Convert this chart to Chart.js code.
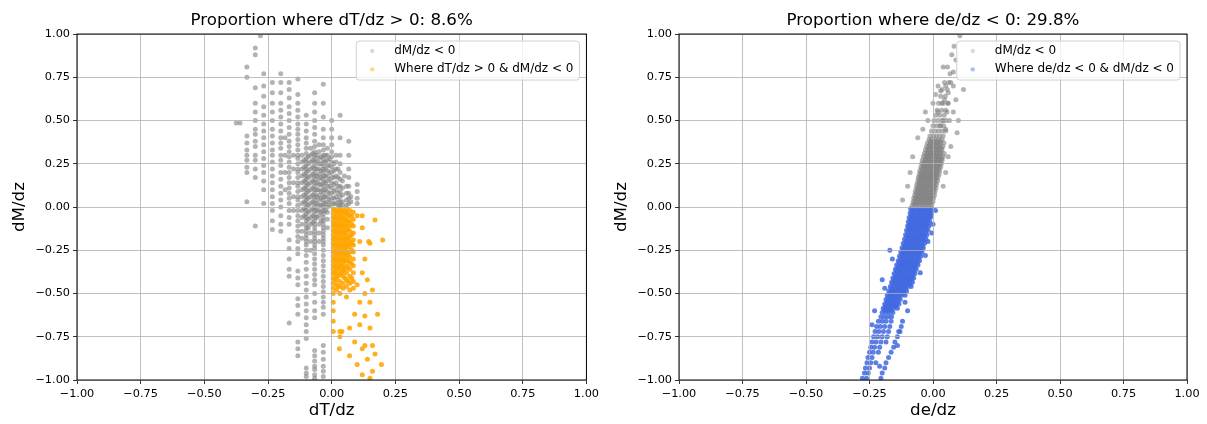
<!DOCTYPE html>
<html>
<head>
<meta charset="utf-8">
<script src="https://cdn.jsdelivr.net/npm/chart.js@4.4.1/dist/chart.umd.min.js"></script>
<style>
  html, body { margin: 0; padding: 0; background: #fff; }
  #wrap { position: relative; width: 1207px; height: 424px; }
  #left { position: absolute; left: 0; top: 0; }
  #right { position: absolute; left: 602px; top: 0; }
</style>
</head>
<body>
<div id="wrap">
  <canvas id="left" width="602" height="424"></canvas>
  <canvas id="right" width="605" height="424"></canvas>
</div>
<script>
// --- データ (画像から読み取った推定値) ---
const tickValues = [-1, -0.75, -0.5, -0.25, 0, 0.25, 0.5, 0.75, 1];

const leftTitle = 'Proportion where dT/dz > 0: 8.6%';
const rightTitle = 'Proportion where de/dz < 0: 29.8%';
const leftLabels = ['dM/dz < 0', 'Where dT/dz > 0 & dM/dz < 0'];
const rightLabels = ['dM/dz < 0', 'Where de/dz < 0 & dM/dz < 0'];

// 左: dT/dz 列ごとの dM/dz 値 [x, [y...]]
const leftGrayCols = [
  [-0.375, [0.485]],
  [-0.36, [0.485]],
  [-0.333, [0.81, 0.75, 0.41, 0.37, 0.33, 0.30, 0.27, 0.23, 0.20, 0.03]],
  [-0.3, [0.92, 0.88, 0.69, 0.60, 0.55, 0.50, 0.45, 0.42, 0.38, 0.35, 0.30, 0.27, 0.22, 0.17, -0.11]],
  [-0.28, [0.99]],
  [-0.267, [0.77, 0.70, 0.64, 0.58, 0.53, 0.48, 0.44, 0.40, 0.36, 0.32, 0.28, 0.24, 0.20, 0.15, 0.10, 0.02]],
  [-0.233, [0.72, 0.66, 0.60, 0.55, 0.50, 0.45, 0.41, 0.37, 0.33, 0.30, 0.26, 0.22, 0.18, 0.14, 0.10, 0.06, 0.02, -0.02, -0.08, -0.13]],
  [-0.2, [0.77, 0.72, 0.66, 0.60, 0.56, 0.52, 0.48, 0.44, 0.40, 0.37, 0.34, 0.30, 0.27, 0.24, 0.20, 0.16, 0.12, 0.08, 0.04, 0.00, -0.05, -0.10, -0.14]],
  [-0.183, [0.40, 0.30, 0.20, 0.10]],
  [-0.167, [0.72, 0.68, 0.63, 0.58, 0.54, 0.50, 0.46, 0.42, 0.38, 0.35, 0.32, 0.29, 0.26, 0.23, 0.20, 0.17, 0.14, 0.11, 0.08, 0.05, 0.02, -0.02, -0.06, -0.10, -0.19, -0.24, -0.30, -0.36, -0.40, -0.67]],
  [-0.15, [0.30, 0.22, 0.14, 0.06, -0.02]],
  [-0.133, [0.74, 0.65, 0.60, 0.56, 0.52, 0.48, 0.45, 0.42, 0.39, 0.36, 0.33, 0.30, 0.28, 0.25, 0.22, 0.20, 0.17, 0.14, 0.12, 0.09, 0.06, 0.04, 0.01, -0.02, -0.05, -0.08, -0.11, -0.14, -0.17, -0.20, -0.24, -0.27, -0.37, -0.41, -0.45, -0.53, -0.57, -0.62, -0.78, -0.82, -0.86]],
  [-0.117, [0.30, 0.26, 0.22, 0.18, 0.14, 0.10, 0.06, 0.02, -0.02, -0.06, -0.10, -0.14, -0.18]],
  [-0.108, [0.27, 0.23, 0.19, 0.15, 0.11, 0.07, 0.03, -0.01, -0.05]],
  [-0.1, [0.53, 0.48, 0.44, 0.40, 0.37, 0.34, 0.31, 0.28, 0.26, 0.24, 0.22, 0.20, 0.18, 0.16, 0.14, 0.12, 0.10, 0.08, 0.06, 0.04, 0.02, 0.00, -0.02, -0.04, -0.06, -0.08, -0.10, -0.12, -0.14, -0.16, -0.18, -0.20, -0.22, -0.25, -0.28, -0.32, -0.36, -0.40, -0.44, -0.48, -0.52, -0.56, -0.60, -0.64, -0.68, -0.72, -0.76, -0.93, -0.96, -0.98]],
  [-0.092, [0.29, 0.25, 0.21, 0.17, 0.13, 0.09, 0.05, 0.01, -0.03, -0.07, -0.12]],
  [-0.083, [0.34, 0.30, 0.26, 0.22, 0.18, 0.14, 0.10, 0.06, 0.02, -0.02, -0.06, -0.10, -0.15, -0.20, -0.25]],
  [-0.075, [0.31, 0.27, 0.23, 0.19, 0.15, 0.11, 0.07, 0.03, -0.01, -0.05, -0.09]],
  [-0.067, [0.66, 0.60, 0.55, 0.50, 0.46, 0.42, 0.38, 0.35, 0.32, 0.30, 0.28, 0.26, 0.24, 0.22, 0.20, 0.18, 0.16, 0.14, 0.12, 0.10, 0.08, 0.06, 0.04, 0.02, 0.00, -0.02, -0.04, -0.06, -0.08, -0.10, -0.12, -0.14, -0.16, -0.18, -0.20, -0.22, -0.24, -0.27, -0.30, -0.33, -0.36, -0.39, -0.42, -0.45, -0.50, -0.55, -0.60, -0.64, -0.83, -0.86, -0.89, -0.92, -0.94, -0.97, -0.99]],
  [-0.058, [0.30, 0.26, 0.22, 0.18, 0.14, 0.10, 0.06, 0.02, -0.02, -0.06]],
  [-0.05, [0.36, 0.32, 0.28, 0.25, 0.22, 0.19, 0.16, 0.13, 0.10, 0.07, 0.04, 0.01, -0.02, -0.05, -0.10, -0.15, -0.20]],
  [-0.042, [0.29, 0.25, 0.21, 0.17, 0.13, 0.09, 0.05, 0.01, -0.03, -0.08]],
  [-0.033, [0.71, 0.60, 0.52, 0.45, 0.40, 0.36, 0.33, 0.30, 0.28, 0.26, 0.24, 0.22, 0.20, 0.18, 0.16, 0.14, 0.12, 0.10, 0.08, 0.06, 0.04, 0.02, 0.00, -0.02, -0.04, -0.06, -0.08, -0.10, -0.12, -0.14, -0.16, -0.18, -0.20, -0.22, -0.25, -0.28, -0.31, -0.34, -0.37, -0.40, -0.43, -0.46, -0.49, -0.52, -0.55, -0.58, -0.62, -0.80, -0.84, -0.88, -0.92, -0.95, -0.98]],
  [-0.025, [0.30, 0.26, 0.22, 0.18, 0.14, 0.10, 0.06, 0.02, -0.02]],
  [-0.017, [0.34, 0.30, 0.27, 0.24, 0.21, 0.18, 0.15, 0.12, 0.09, 0.06, 0.03, 0.00, -0.03, -0.07, -0.12]],
  [-0.008, [0.28, 0.24, 0.20, 0.16, 0.12, 0.08, 0.04, 0.01]],
  [0, [0.50, 0.45, 0.40, 0.36, 0.32, 0.29, 0.26, 0.23, 0.20, 0.17, 0.14, 0.11, 0.08, 0.05, 0.02]],
  [0.008, [0.25, 0.21, 0.17, 0.13, 0.09, 0.05, 0.02]],
  [0.017, [0.30, 0.26, 0.22, 0.18, 0.14, 0.10, 0.06, 0.02]],
  [0.025, [0.22, 0.17, 0.12, 0.08, 0.04, 0.01]],
  [0.033, [0.53, 0.40, 0.30, 0.25, 0.20, 0.16, 0.12, 0.09, 0.06, 0.03, 0.01]],
  [0.042, [0.15, 0.11, 0.07, 0.03, 0.01]],
  [0.05, [0.18]],
  [0.058, [0.12, 0.08, 0.04, 0.01]],
  [0.067, [0.38, 0.30, 0.22, 0.17, 0.12, 0.08, 0.05, 0.02]],
  [0.075, [0.06, 0.03]],
  [0.1, [0.13, 0.09, 0.05, 0.02]]
];

// 左: dT/dz > 0 かつ dM/dz < 0
const leftOrangeCols = [
  [0.006, [-0.01, -0.035, -0.06, -0.085, -0.11, -0.135, -0.16, -0.185, -0.21, -0.235, -0.26, -0.285, -0.31, -0.335, -0.36, -0.385, -0.41, -0.44, -0.47, -0.50, -0.55, -0.60, -0.66, -0.72]],
  [0.012, [-0.02, -0.06, -0.10, -0.14, -0.18, -0.22, -0.26, -0.30, -0.34, -0.38, -0.42]],
  [0.019, [-0.02, -0.045, -0.07, -0.095, -0.12, -0.145, -0.17, -0.195, -0.22, -0.245, -0.27, -0.295, -0.32, -0.345, -0.37, -0.395, -0.42, -0.45, -0.48]],
  [0.025, [-0.03, -0.07, -0.11, -0.15, -0.19, -0.23, -0.27, -0.31, -0.35, -0.40, -0.46]],
  [0.032, [-0.01, -0.035, -0.06, -0.085, -0.11, -0.135, -0.16, -0.185, -0.21, -0.235, -0.26, -0.285, -0.31, -0.335, -0.36, -0.39, -0.43, -0.46, -0.50, -0.72, -0.75]],
  [0.038, [-0.02, -0.06, -0.10, -0.14, -0.18, -0.22, -0.26, -0.30, -0.34, -0.38]],
  [0.045, [-0.02, -0.045, -0.07, -0.095, -0.12, -0.145, -0.17, -0.195, -0.22, -0.245, -0.27, -0.295, -0.32, -0.345, -0.37, -0.40, -0.44, -0.47]],
  [0.051, [-0.03, -0.07, -0.11, -0.15, -0.19, -0.23, -0.27, -0.31, -0.36, -0.41]],
  [0.058, [-0.01, -0.035, -0.06, -0.085, -0.11, -0.135, -0.16, -0.185, -0.21, -0.235, -0.26, -0.285, -0.31, -0.34, -0.38, -0.42, -0.46, -0.52]],
  [0.064, [-0.04, -0.09, -0.13, -0.18, -0.22, -0.27, -0.31, -0.35, -0.43]],
  [0.071, [-0.02, -0.05, -0.08, -0.11, -0.14, -0.17, -0.20, -0.23, -0.26, -0.29, -0.32, -0.36, -0.40, -0.44, -0.48]],
  [0.078, [-0.05, -0.10, -0.16, -0.21, -0.25, -0.33, -0.41]],
  [0.085, [-0.03, -0.07, -0.11, -0.15, -0.19, -0.22, -0.26, -0.30, -0.34, -0.38, -0.43, -0.47]]
];
const leftOrangeExtra = [
  [0.10, -0.05], [0.12, -0.05], [0.12, -0.12], [0.11, -0.20], [0.145, -0.20], [0.15, -0.21],
  [0.20, -0.19], [0.17, -0.075], [0.13, -0.30], [0.12, -0.38], [0.14, -0.42], [0.10, -0.45],
  [0.13, -0.50], [0.16, -0.48], [0.11, -0.55], [0.15, -0.55], [0.09, -0.62], [0.13, -0.63],
  [0.18, -0.62], [0.07, -0.70], [0.11, -0.68], [0.15, -0.70], [0.04, -0.72], [0.09, -0.78],
  [0.16, -0.80], [0.12, -0.82], [0.03, -0.82], [0.07, -0.86], [0.14, -0.88], [0.17, -0.85],
  [0.10, -0.91], [0.16, -0.95], [0.195, -0.91], [0.12, -0.97], [0.15, -0.99], [0.13, -0.80]
];

// 右: de/dz 行ごと [y, [x...]]
const rightGrayRows = [
  [0.01, [-0.082, -0.07, -0.057, -0.044, -0.031, -0.018, -0.005]],
  [0.02, [-0.075, -0.062, -0.049, -0.036, -0.023, -0.01]],
  [0.03, [-0.078, -0.065, -0.052, -0.039, -0.026, -0.013, 0.0]],
  [0.04, [-0.071, -0.058, -0.045, -0.032, -0.019, -0.006]],
  [0.05, [-0.076, -0.063, -0.05, -0.037, -0.024, -0.011, 0.002]],
  [0.06, [-0.068, -0.055, -0.042, -0.029, -0.016, -0.003]],
  [0.07, [-0.072, -0.059, -0.046, -0.033, -0.02, -0.007, 0.006]],
  [0.08, [-0.065, -0.052, -0.039, -0.026, -0.013, 0.0]],
  [0.09, [-0.07, -0.057, -0.044, -0.031, -0.018, -0.005, 0.008]],
  [0.10, [-0.062, -0.049, -0.036, -0.023, -0.01, 0.003]],
  [0.11, [-0.066, -0.053, -0.04, -0.027, -0.014, -0.001, 0.012]],
  [0.12, [-0.059, -0.046, -0.033, -0.02, -0.007, 0.006]],
  [0.13, [-0.064, -0.051, -0.038, -0.025, -0.012, 0.001, 0.014]],
  [0.14, [-0.056, -0.043, -0.03, -0.017, -0.004, 0.009]],
  [0.15, [-0.06, -0.047, -0.034, -0.021, -0.008, 0.005, 0.018]],
  [0.16, [-0.053, -0.04, -0.027, -0.014, -0.001, 0.012]],
  [0.17, [-0.058, -0.045, -0.032, -0.019, -0.006, 0.007, 0.02]],
  [0.18, [-0.05, -0.037, -0.024, -0.011, 0.002, 0.015]],
  [0.19, [-0.054, -0.041, -0.028, -0.015, -0.002, 0.011, 0.024]],
  [0.20, [-0.047, -0.034, -0.021, -0.008, 0.005, 0.018]],
  [0.21, [-0.052, -0.039, -0.026, -0.013, 0.0, 0.013, 0.026]],
  [0.22, [-0.043, -0.03, -0.017, -0.004, 0.009, 0.022]],
  [0.23, [-0.048, -0.035, -0.022, -0.009, 0.004, 0.017, 0.03]],
  [0.24, [-0.039, -0.026, -0.013, 0.0, 0.013, 0.026]],
  [0.25, [-0.045, -0.032, -0.019, -0.006, 0.007, 0.02, 0.033]],
  [0.26, [-0.035, -0.022, -0.009, 0.004, 0.017, 0.03]],
  [0.27, [-0.042, -0.029, -0.016, -0.003, 0.01, 0.023, 0.036]],
  [0.28, [-0.031, -0.018, -0.005, 0.008, 0.021, 0.034]],
  [0.29, [-0.038, -0.025, -0.012, 0.001, 0.014, 0.027, 0.04]],
  [0.30, [-0.027, -0.014, -0.001, 0.012, 0.025]],
  [0.31, [-0.034, -0.021, -0.008, 0.005, 0.018, 0.031, 0.044]],
  [0.32, [-0.023, -0.01, 0.003, 0.016, 0.029]],
  [0.33, [-0.03, -0.017, -0.004, 0.009, 0.022, 0.035]],
  [0.34, [-0.019, -0.006, 0.007, 0.02, 0.033]],
  [0.35, [-0.026, -0.013, 0.0, 0.013, 0.026, 0.039]],
  [0.36, [-0.015, -0.002, 0.011, 0.024]],
  [0.37, [-0.022, -0.009, 0.004, 0.017, 0.03, 0.043]],
  [0.38, [-0.01, 0.003, 0.016, 0.029]],
  [0.39, [-0.016, -0.003, 0.01, 0.023, 0.036]],
  [0.41, [-0.012, 0.001, 0.014, 0.027, 0.04]],
  [0.44, [-0.006, 0.008, 0.022, 0.036, 0.05]],
  [0.47, [0.0, 0.014, 0.028, 0.042]],
  [0.50, [0.004, 0.02, 0.036, 0.052]],
  [0.53, [0.01, 0.026, 0.044]],
  [0.56, [0.016, 0.034, 0.05]],
  [0.60, [0.022, 0.04, 0.058]],
  [0.64, [0.03, 0.048]],
  [0.68, [0.036, 0.056]],
  [0.72, [0.045, 0.062]]
];
const rightGrayExtra = [
  [-0.12, 0.04], [-0.10, 0.12], [-0.09, 0.20], [-0.08, 0.29], [-0.06, 0.40], [-0.04, 0.45],
  [-0.03, 0.55], [-0.02, 0.50], [0.0, 0.60], [0.01, 0.65], [0.02, 0.70], [0.03, 0.67],
  [0.04, 0.81], [0.057, 0.81], [0.067, 0.77], [0.074, 0.88], [0.083, 0.93], [0.106, 0.99],
  [0.12, 0.68], [0.10, 0.50], [0.095, 0.43], [0.06, 0.29], [0.07, 0.35], [0.08, 0.55],
  [0.09, 0.62], [0.06, 0.60], [0.05, 0.70], [0.035, 0.60], [0.02, 0.55], [0.07, 0.72],
  [0.08, 0.78], [0.05, 0.45], [0.04, 0.50], [0.055, 0.55], [0.065, 0.50], [0.045, 0.62],
  [0.06, 0.66], [0.03, 0.47], [0.08, 0.70], [0.09, 0.85], [0.05, 0.20], [0.04, 0.12]
];

const rightBlueRows = [
  [-0.01, [-0.088, -0.074, -0.06, -0.046, -0.032, -0.018, -0.004]],
  [-0.022, [-0.082, -0.068, -0.054, -0.04, -0.026, -0.012]],
  [-0.035, [-0.09, -0.076, -0.062, -0.048, -0.034, -0.02, -0.006]],
  [-0.047, [-0.085, -0.071, -0.057, -0.043, -0.029, -0.015]],
  [-0.06, [-0.094, -0.08, -0.066, -0.052, -0.038, -0.024, -0.01]],
  [-0.072, [-0.089, -0.075, -0.061, -0.047, -0.033, -0.019]],
  [-0.085, [-0.097, -0.083, -0.069, -0.055, -0.041, -0.027, -0.013]],
  [-0.097, [-0.092, -0.078, -0.064, -0.05, -0.036, -0.022]],
  [-0.11, [-0.1, -0.086, -0.072, -0.058, -0.044, -0.03, -0.016]],
  [-0.122, [-0.095, -0.081, -0.067, -0.053, -0.039, -0.025]],
  [-0.135, [-0.104, -0.09, -0.076, -0.062, -0.048, -0.034, -0.02]],
  [-0.147, [-0.099, -0.085, -0.071, -0.057, -0.043, -0.029]],
  [-0.16, [-0.108, -0.094, -0.08, -0.066, -0.052, -0.038, -0.024]],
  [-0.172, [-0.103, -0.089, -0.075, -0.061, -0.047, -0.033]],
  [-0.185, [-0.112, -0.098, -0.084, -0.07, -0.056, -0.042, -0.028]],
  [-0.197, [-0.107, -0.093, -0.079, -0.065, -0.051, -0.037]],
  [-0.21, [-0.117, -0.103, -0.089, -0.075, -0.061, -0.047, -0.033]],
  [-0.222, [-0.112, -0.098, -0.084, -0.07, -0.056, -0.042]],
  [-0.235, [-0.122, -0.108, -0.094, -0.08, -0.066, -0.052, -0.038]],
  [-0.247, [-0.117, -0.103, -0.089, -0.075, -0.061, -0.047]],
  [-0.26, [-0.127, -0.113, -0.099, -0.085, -0.071, -0.057, -0.043]],
  [-0.272, [-0.122, -0.108, -0.094, -0.08, -0.066, -0.052]],
  [-0.285, [-0.132, -0.118, -0.104, -0.09, -0.076, -0.062, -0.048]],
  [-0.297, [-0.127, -0.113, -0.099, -0.085, -0.071, -0.057]],
  [-0.31, [-0.137, -0.123, -0.109, -0.095, -0.081, -0.067, -0.053]],
  [-0.322, [-0.133, -0.119, -0.105, -0.091, -0.077, -0.063]],
  [-0.335, [-0.143, -0.129, -0.115, -0.101, -0.087, -0.073, -0.059]],
  [-0.347, [-0.138, -0.124, -0.11, -0.096, -0.082, -0.07]],
  [-0.36, [-0.148, -0.134, -0.12, -0.106, -0.092, -0.078, -0.066]],
  [-0.372, [-0.143, -0.129, -0.115, -0.101, -0.087, -0.075]],
  [-0.385, [-0.153, -0.139, -0.125, -0.111, -0.097, -0.083, -0.071]],
  [-0.397, [-0.148, -0.134, -0.12, -0.106, -0.092, -0.08]],
  [-0.41, [-0.158, -0.144, -0.13, -0.116, -0.102, -0.088, -0.076]],
  [-0.422, [-0.153, -0.139, -0.125, -0.111, -0.097, -0.085]],
  [-0.435, [-0.163, -0.149, -0.135, -0.121, -0.107, -0.093, -0.081]],
  [-0.447, [-0.158, -0.144, -0.13, -0.116, -0.102, -0.09]],
  [-0.46, [-0.168, -0.154, -0.14, -0.126, -0.112, -0.098, -0.086]],
  [-0.472, [-0.164, -0.15, -0.136, -0.122, -0.108]],
  [-0.485, [-0.174, -0.16, -0.146, -0.132, -0.118, -0.104]],
  [-0.497, [-0.17, -0.156, -0.142, -0.128, -0.114]],
  [-0.51, [-0.18, -0.166, -0.152, -0.138, -0.124, -0.11]],
  [-0.522, [-0.176, -0.162, -0.148, -0.134]],
  [-0.535, [-0.185, -0.171, -0.157, -0.143, -0.129]],
  [-0.547, [-0.181, -0.167, -0.153, -0.139]],
  [-0.56, [-0.19, -0.176, -0.162, -0.148, -0.134]],
  [-0.572, [-0.187, -0.173, -0.159, -0.145]],
  [-0.585, [-0.196, -0.182, -0.168, -0.154, -0.14]],
  [-0.597, [-0.192, -0.178, -0.164]],
  [-0.61, [-0.2, -0.186, -0.172, -0.158]],
  [-0.635, [-0.205, -0.191, -0.177, -0.163]],
  [-0.66, [-0.215, -0.2, -0.185, -0.165, -0.12]],
  [-0.69, [-0.222, -0.207, -0.19, -0.17, -0.125]],
  [-0.72, [-0.228, -0.213, -0.195, -0.175, -0.135]],
  [-0.75, [-0.234, -0.218, -0.2, -0.18, -0.14]],
  [-0.78, [-0.24, -0.224, -0.205, -0.185, -0.15]],
  [-0.81, [-0.245, -0.23, -0.21, -0.155]],
  [-0.84, [-0.25, -0.235, -0.215, -0.165]],
  [-0.87, [-0.256, -0.24, -0.175]],
  [-0.90, [-0.26, -0.245, -0.225, -0.185]],
  [-0.93, [-0.266, -0.25, -0.19]],
  [-0.96, [-0.27, -0.255, -0.2]],
  [-0.99, [-0.278, -0.262, -0.205]]
];
const rightBlueExtra = [
  [-0.17, -0.25], [-0.16, -0.30], [-0.02, -0.20], [-0.01, -0.05], [0.01, -0.02], [0.0, -0.10],
  [-0.20, -0.42], [-0.19, -0.47], [-0.23, -0.60], [-0.24, -0.68], [-0.11, -0.55], [-0.10, -0.60],
  [-0.13, -0.72], [-0.14, -0.80], [-0.21, -0.92], [-0.005, -0.15], [-0.03, -0.28], [-0.05, -0.38]
];

const FONT = "'DejaVu Sans', sans-serif";
const GRAY = 'rgba(128,128,128,0.6)';
const ORANGE = 'rgba(255,165,0,0.88)';
const BLUE = 'rgba(65,105,225,0.85)';
const GRAY_KEY = 'rgba(128,128,128,0.3)';
const ORANGE_KEY = 'rgba(255,165,0,0.45)';
const BLUE_KEY = 'rgba(65,105,225,0.45)';

// [x,[y...]] / [y,[x...]] を {x,y} に展開
function fromCols(cols) {
  const out = [];
  cols.forEach(([x, ys]) => ys.forEach(y => out.push({ x, y })));
  return out;
}
function fromRows(rows) {
  const out = [];
  rows.forEach(([y, xs]) => xs.forEach(x => out.push({ x, y })));
  return out;
}
function fromPairs(pairs) {
  return pairs.map(([x, y]) => ({ x, y }));
}

const fmt = v => v.toFixed(2).replace('-', '\u2212');

// 枠線と凡例 (プロット内右上)
const frameLegend = {
  id: 'insideLegend',
  afterDraw(chart, args, opts) {
    const { ctx, chartArea: a } = chart;
    ctx.save();
    ctx.strokeStyle = '#000';
    ctx.lineWidth = 1;
    ctx.strokeRect(a.left, a.top, a.right - a.left, a.bottom - a.top);

    ctx.font = '12px ' + FONT;
    const tw = Math.max(...opts.labels.map(t => ctx.measureText(t).width));
    const w = 38 + tw + 6, h = 39;
    const x0 = a.right - 7 - w, y0 = a.top + 7;
    ctx.beginPath();
    ctx.roundRect(x0, y0, w, h, 3);
    ctx.fillStyle = 'rgba(255,255,255,0.8)';
    ctx.fill();
    ctx.strokeStyle = '#d0d0d0';
    ctx.stroke();
    opts.labels.forEach((t, i) => {
      const cy = y0 + 10 + i * 18.3;
      ctx.beginPath();
      ctx.arc(x0 + 16, cy, 2.2, 0, Math.PI * 2);
      ctx.fillStyle = opts.colors[i];
      ctx.fill();
      ctx.fillStyle = '#000';
      ctx.textBaseline = 'middle';
      ctx.fillText(t, x0 + 38, cy);
    });
    ctx.restore();
  }
};

function axis(label, which) {
  return {
    type: 'linear',
    min: -1,
    max: 1,
    afterBuildTicks: s => { s.ticks = tickValues.map(v => ({ value: v })); },
    afterFit: s => { if (which === 'x') s.height = 44; else s.width = 77; },
    ticks: { callback: v => fmt(v), color: '#000', font: { family: FONT, size: 11.3 }, padding: 3, maxRotation: 0, autoSkip: false },
    grid: { color: '#b0b0b0', lineWidth: 0.8, tickColor: '#000', tickLength: 4, z: 1 },
    border: { display: false },
    title: {
      display: true, text: label, color: '#000',
      font: { family: FONT, size: 16.7 },
      padding: which === 'x' ? { top: 0, bottom: 3 } : { top: 10, bottom: 0 }
    }
  };
}

function makeScatter(id, title, xLabel, labels, base, hi, color, keyColor, padRight) {
  return new Chart(document.getElementById(id), {
    type: 'scatter',
    data: {
      datasets: [
        { label: labels[0], data: base, pointBackgroundColor: GRAY, pointBorderWidth: 0, pointRadius: 2.5 },
        { label: labels[1], data: hi, pointBackgroundColor: color, pointBorderWidth: 0, pointRadius: 2.5 }
      ]
    },
    options: {
      responsive: false,
      animation: false,
      events: [],
      layout: { padding: { right: padRight } },
      plugins: {
        legend: { display: false },
        tooltip: { enabled: false },
        title: {
          display: true, text: title, fullSize: false, color: '#000',
          font: { family: FONT, size: 16.7, weight: 'normal' },
          padding: { top: 11, bottom: 3 }
        },
        insideLegend: { labels, colors: [GRAY_KEY, keyColor] }
      },
      scales: { x: axis(xLabel, 'x'), y: axis('dM/dz', 'y') }
    },
    plugins: [frameLegend]
  });
}

makeScatter('left', leftTitle, 'dT/dz', leftLabels,
  fromCols(leftGrayCols),
  fromCols(leftOrangeCols).concat(fromPairs(leftOrangeExtra)),
  ORANGE, ORANGE_KEY, 15);

makeScatter('right', rightTitle, 'de/dz', rightLabels,
  fromRows(rightGrayRows).concat(fromPairs(rightGrayExtra)),
  fromRows(rightBlueRows).concat(fromPairs(rightBlueExtra)),
  BLUE, BLUE_KEY, 20);
</script>
</body>
</html>
